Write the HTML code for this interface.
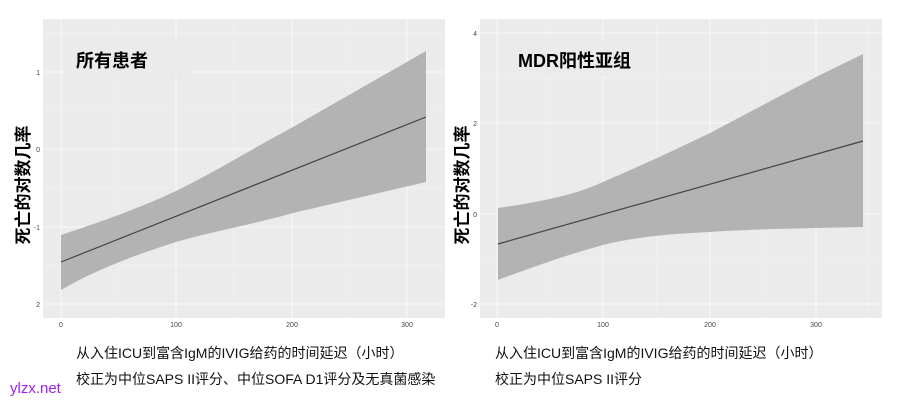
<!DOCTYPE html><html><head><meta charset="utf-8"><style>
body{margin:0;background:#fff;width:905px;height:403px;overflow:hidden}
svg{display:block;font-family:"Liberation Sans","Noto Sans CJK SC",sans-serif}
</style></head><body>
<svg width="905" height="403" viewBox="0 0 905 403">
<rect x="43" y="19" width="402" height="299" fill="#ebebeb"/>
<g stroke="#f4f4f4" stroke-width="0.5">
<line x1="118" y1="19" x2="118" y2="318"/><line x1="234" y1="19" x2="234" y2="318"/><line x1="350" y1="19" x2="350" y2="318"/>
<line x1="43" y1="33" x2="445" y2="33"/><line x1="43" y1="110" x2="445" y2="110"/><line x1="43" y1="188" x2="445" y2="188"/><line x1="43" y1="265" x2="445" y2="265"/>
</g>
<g stroke="#fafafa" stroke-width="0.9">
<line x1="61" y1="19" x2="61" y2="318"/><line x1="176" y1="19" x2="176" y2="318"/><line x1="292" y1="19" x2="292" y2="318"/><line x1="407" y1="19" x2="407" y2="318"/>
<line x1="43" y1="72" x2="445" y2="72"/><line x1="43" y1="149" x2="445" y2="149"/><line x1="43" y1="227" x2="445" y2="227"/><line x1="43" y1="304" x2="445" y2="304"/>
</g>
<path d="M61,235 C100,222 140,208 176,191 C215,172 250,150 293,127 L426,51 L426,182 L293,213 C250,225 210,232 176,242 C135,255 95,270 61,290 Z" fill="#b3b3b3"/>
<line x1="61" y1="262" x2="426" y2="117" stroke="#444" stroke-width="1.2"/>
<rect x="66" y="40" width="122" height="36" fill="#ebebeb"/>
<text x="76" y="67" font-size="18" font-weight="bold" fill="#000">所有患者</text>
<g font-size="7" fill="#444" text-anchor="end">
<text x="40" y="75">1</text><text x="40" y="152">0</text><text x="40" y="230">-1</text><text x="40" y="307">2</text></g>
<g font-size="7" fill="#444" text-anchor="middle">
<text x="61" y="327">0</text><text x="176" y="327">100</text><text x="292" y="327">200</text><text x="407" y="327">300</text></g>
<text transform="translate(29,185) rotate(-90)" font-size="17" font-weight="bold" text-anchor="middle">死亡的对数几率</text>
<rect x="480" y="19" width="402" height="299" fill="#ebebeb"/>
<g stroke="#f4f4f4" stroke-width="0.5">
<line x1="550" y1="19" x2="550" y2="318"/><line x1="657" y1="19" x2="657" y2="318"/><line x1="763" y1="19" x2="763" y2="318"/><line x1="869" y1="19" x2="869" y2="318"/>
<line x1="480" y1="78" x2="882" y2="78"/><line x1="480" y1="168" x2="882" y2="168"/><line x1="480" y1="259" x2="882" y2="259"/>
</g>
<g stroke="#fafafa" stroke-width="0.9">
<line x1="497" y1="19" x2="497" y2="318"/><line x1="603" y1="19" x2="603" y2="318"/><line x1="710" y1="19" x2="710" y2="318"/><line x1="816" y1="19" x2="816" y2="318"/>
<line x1="480" y1="33" x2="882" y2="33"/><line x1="480" y1="123" x2="882" y2="123"/><line x1="480" y1="214" x2="882" y2="214"/><line x1="480" y1="304" x2="882" y2="304"/>
</g>
<path d="M498,208 C540,202 575,195 603,182 C640,166 675,150 710,133 L816,77 L863,54 L863,227 L816,228 C770,229 740,230 710,232 C670,234 640,236 603,245 C570,254 535,266 498,280 Z" fill="#b3b3b3"/>
<line x1="498" y1="244" x2="863" y2="141" stroke="#444" stroke-width="1.2"/>
<rect x="510" y="40" width="140" height="36" fill="#ebebeb"/>
<text x="518" y="67" font-size="18" font-weight="bold" fill="#000">MDR阳性亚组</text>
<g font-size="7" fill="#444" text-anchor="end">
<text x="477" y="36">4</text><text x="477" y="126">2</text><text x="477" y="217">0</text><text x="477" y="307">-2</text></g>
<g font-size="7" fill="#444" text-anchor="middle">
<text x="497" y="327">0</text><text x="603" y="327">100</text><text x="710" y="327">200</text><text x="816" y="327">300</text></g>
<text transform="translate(468,185) rotate(-90)" font-size="17" font-weight="bold" text-anchor="middle">死亡的对数几率</text>
<g font-size="14" fill="#111">
<text x="76" y="358">从入住ICU到富含IgM的IVIG给药的时间延迟（小时）</text>
<text x="76" y="384">校正为中位SAPS II评分、中位SOFA D1评分及无真菌感染</text>
<text x="495" y="358">从入住ICU到富含IgM的IVIG给药的时间延迟（小时）</text>
<text x="495" y="384">校正为中位SAPS II评分</text>
</g>
<text x="10" y="393" font-size="15" fill="#a020f0">ylzx.net</text>
</svg></body></html>
